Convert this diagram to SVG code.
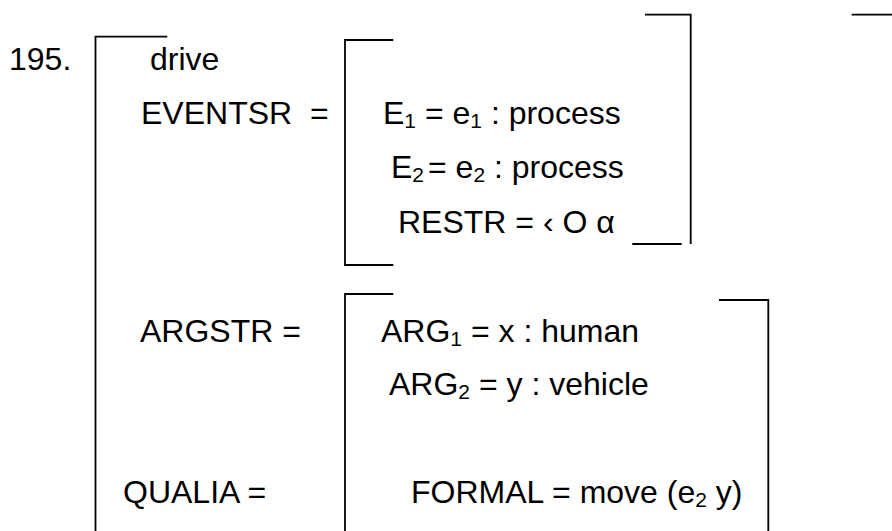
<svg xmlns="http://www.w3.org/2000/svg" width="892" height="531" viewBox="0 0 892 531">
<style>
text{font-family:"Liberation Sans",Arial,sans-serif;font-size:32px;fill:#000;white-space:pre}
.sub{font-size:21px}
.br{fill:none;stroke:#000;stroke-width:1.8}
</style>
<rect width="892" height="531" fill="#fff"/>
<text id="num" x="9" y="70">195.</text>
<g id="drive">
  <path class="br" d="M167.3,36.7H95.5V531"/>
  <text x="150" y="70">drive</text>
</g>
<g id="eventsr">
  <text x="141" y="124" xml:space="preserve">EVENTSR  =</text>
  <path class="br" d="M393.3,40H345V265H393.3"/>
  <text x="383" y="124">E<tspan class="sub" dy="4">1</tspan><tspan dy="-4"> = e</tspan><tspan class="sub" dy="4">1</tspan><tspan dy="-4"> : process</tspan></text>
  <text x="391" y="178">E<tspan class="sub" dy="4">2</tspan><tspan dy="-4" dx="4">= e</tspan><tspan class="sub" dy="4">2</tspan><tspan dy="-4"> : process</tspan></text>
  <text x="398" y="233">RESTR = ‹ O α</text>
  <path class="br" d="M645,14.7H690.7V244"/>
  <path class="br" d="M632.3,244H681.7"/>
  <path class="br" d="M851.7,14.7H892"/>
</g>
<g id="argstr">
  <text x="140" y="342">ARGSTR =</text>
  <path class="br" d="M393.3,294H345V531"/>
  <text x="381" y="342">ARG<tspan class="sub" dy="4">1</tspan><tspan dy="-4"> = x : human</tspan></text>
  <text x="389" y="395">ARG<tspan class="sub" dy="4">2</tspan><tspan dy="-4"> = y : vehicle</tspan></text>
  <path class="br" d="M719,300H768.3V531"/>
</g>
<g id="qualia">
  <text x="123" y="503">QUALIA =</text>
  <text x="411" y="503">FORMAL = move (e<tspan class="sub" dy="4">2</tspan><tspan dy="-4"> y)</tspan></text>
</g>
<g id="connectors"></g>
</svg>
